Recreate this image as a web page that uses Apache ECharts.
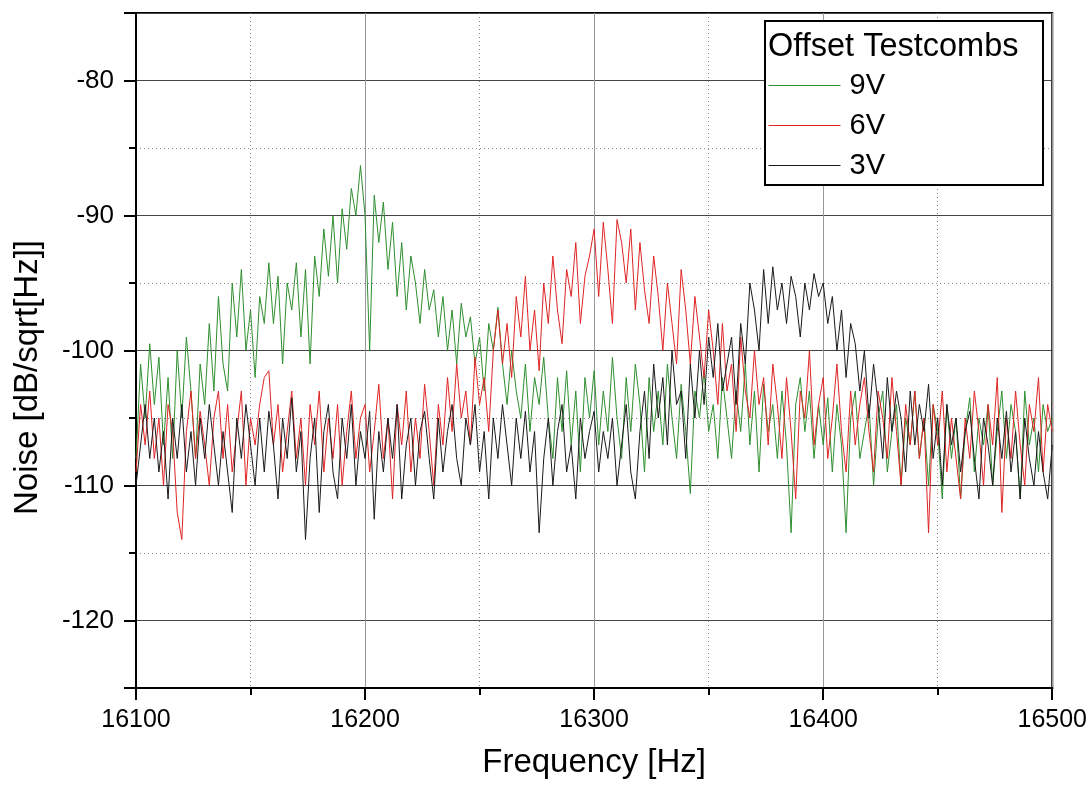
<!DOCTYPE html>
<html>
<head>
<meta charset="utf-8">
<script src="https://cdn.jsdelivr.net/npm/echarts@6/dist/echarts.min.js"></script>
<style>html,body{margin:0;padding:0;background:#fff;}#chart{width:1090px;height:789px;}</style>
</head>
<body>
<div id="chart"></div>
<script>
// Frequency sampling (Hz)
const freqStart = 16100;
const freqStep = 2;

// Noise [dB/sqrt[Hz]], one value per 2 Hz from 16100 to 16500
const green9V = [
-108,-101,-105,-99.5,-104,-100.5,-107,-102,-108,-100,
-105,-99,-103,-108,-101,-104,-98,-103,-96,-101,
-103,-95,-99,-94,-100,-97,-102,-96,-98,-93.5,
-98,-94.5,-101,-95,-97,-93.5,-99,-94,-101,-93,
-96,-91,-94.5,-90,-95,-89.5,-92.5,-88,-90,-86.3,
-90,-100,-88.5,-92,-89,-94,-90.5,-96,-92,-97,
-93,-95,-98,-94,-97,-95.5,-99,-96,-100,-97,
-101,-96.5,-99,-97.5,-101,-99,-103,-98,-100,-96.8,
-101,-104,-100,-103,-105,-101,-106,-102,-104,-100.5,
-105,-108,-102,-106,-101.5,-107,-103,-109,-102,-105,
-101.5,-107,-103,-106,-100.5,-105,-108,-102,-106,-101,
-104,-109,-102,-106,-103,-107,-101,-105,-108,-102.5,
-106,-110.6,-103,-105,-101.5,-106,-104,-108,-102,-105,
-108,-103,-106,-101,-107,-103,-109,-102.5,-106,-104,
-108,-103,-107,-113.5,-104,-102,-106,-103,-108,-104,
-107,-103.5,-109,-104,-107,-113.5,-105,-103,-108,-106,
-104,-110,-105,-103,-109,-106,-104,-110,-105,-107,
-103,-108,-105,-110,-104,-106,-111,-104,-108,-105,
-111,-106,-103.5,-109,-105,-107,-104,-110,-106,-103,
-108,-104,-106,-111,-103,-107,-105,-109,-104,-106,
-105
];
const red6V = [
-109,-104,-107,-103,-108,-105,-110,-104,-106,-112,
-114,-106,-103,-108,-104.5,-107,-110,-105,-103,-108,
-104,-109,-106,-103,-110,-105,-107,-104,-102,-101.5,
-107,-104,-109,-106,-103,-108,-105,-110,-104,-107,
-103,-109,-105,-108,-104,-110,-106,-103,-108,-105,
-104,-109,-106,-102.5,-108,-105,-111,-104,-107,-103,
-109,-105,-108,-102.5,-106,-110,-104,-107,-102,-106,
-101,-105,-103,-107,-100.5,-104,-102,-106,-100,-97,
-101,-98,-102,-96,-99,-94.5,-100,-97,-101.5,-95,
-98,-93,-97,-99.5,-94,-96,-92,-98,-94.5,-93,
-91,-96,-90.5,-94,-98,-90.3,-92,-95,-91,-97,
-92,-95.5,-98,-93,-96,-100,-95,-98,-101,-94,
-97,-101,-96,-99,-102,-97,-100,-104,-98,-103,
-101,-106,-99,-103,-105,-100,-104,-102,-107,-101,
-104,-108,-102,-106,-111,-103,-105,-100,-107,-104,
-102,-108,-105,-101,-106,-109,-103,-107,-104,-102,
-106,-109,-103,-105,-108,-102,-106,-110,-104,-107,
-103,-108,-105,-113.5,-104,-107,-103,-109,-105,-108,
-111,-105,-108,-103,-106,-110,-104,-107,-102,-112,
-105,-108,-103,-107,-110,-104,-106,-102,-109,-104,
-106
];
const black3V = [
-110,-107,-104,-108,-105,-109,-106,-111,-105,-108,
-104,-109,-106,-110,-105,-108,-104,-107,-110,-106,
-109,-112,-105,-108,-104,-107,-110,-105,-109,-104.5,
-107,-111,-105,-108,-103.5,-109,-106,-114,-108,-105,
-112,-106,-104,-109,-111,-105,-108,-104,-110,-106,
-108,-104.5,-112.5,-106,-109,-105,-108,-104,-111,-107,
-105,-110,-106,-104.5,-108,-111,-105,-109,-106,-104,
-108,-110,-105,-107,-104,-109,-106,-111,-105,-108,
-104,-107,-110,-105,-108,-104.5,-109,-106,-113.5,-108,
-105,-110,-106,-104,-109,-107,-111,-105,-108,-106,
-104.5,-109,-106,-108,-105,-110,-107,-104,-109,-111,
-106,-103,-108,-101,-105,-102,-107,-100,-104,-103,
-108,-101,-105,-100,-104,-99,-102,-98,-103,-101,
-99,-104,-98,-101,-95,-97,-100,-94,-98,-93.8,
-97,-95,-98,-94.5,-96,-99,-95,-97,-94.3,-96,
-95,-98,-96,-100,-97,-102,-98,-99.5,-103,-100,
-105,-101,-104,-108,-102,-106,-103,-105,-109,-103,
-107,-104,-106,-102.5,-108,-105,-110,-104,-107,-105,
-109,-106,-104.5,-108,-111,-105,-107,-110,-105,-108,
-104.5,-109,-106,-111,-105,-108,-110,-106,-109,-111,
-107
];

const seriesNames = ['9V', '6V', '3V'];
const seriesColors = ['#2f8f2f', '#e02424', '#1a1a1a'];
const legendTitle = 'Offset Testcombs';
const xTitle = 'Frequency [Hz]';
const yTitle = 'Noise [dB/sqrt[Hz]]';

function pairs(arr) {
  return arr.map((v, i) => [freqStart + i * freqStep, v]);
}

const FONT = '"Liberation Sans", Arial, sans-serif';
const chart = echarts.init(document.getElementById('chart'), null, {renderer: 'canvas'});

const option = {
  backgroundColor: '#fff',
  animation: false,
  grid: {
    left: 136, right: 37, top: 13, bottom: 101,
    show: true, borderColor: '#000', borderWidth: 2, backgroundColor: 'transparent'
  },
  xAxis: [
    {
      type: 'value', min: 16100, max: 16500, interval: 50,
      axisLine: {show: false},
      axisTick: {show: true, inside: false, length: 7, lineStyle: {color: '#000', width: 2}},
      axisLabel: {show: false},
      splitLine: {show: true, lineStyle: {color: ['transparent', '#888'], type: [1, 3], width: 1}}
    },
    {
      type: 'value', min: 16100, max: 16500, interval: 100, position: 'bottom',
      axisLine: {show: true, onZero: false, lineStyle: {color: '#000', width: 2}},
      axisTick: {show: true, inside: false, length: 12, lineStyle: {color: '#000', width: 2}},
      axisLabel: {show: true, margin: 20, color: '#000', fontSize: 25, fontFamily: FONT,
        formatter: v => String(v)},
      splitLine: {show: true, lineStyle: {color: '#999', width: 1}},
      name: xTitle, nameLocation: 'middle', nameGap: 58,
      nameTextStyle: {color: '#000', fontSize: 33, fontFamily: FONT}
    }
  ],
  yAxis: [
    {
      type: 'value', min: -125, max: -75, interval: 5,
      axisLine: {show: false},
      axisTick: {show: true, inside: false, length: 7, lineStyle: {color: '#000', width: 2}},
      axisLabel: {show: false},
      splitLine: {show: true, lineStyle: {color: ['#888', 'transparent'], type: [1, 3], width: 1}}
    },
    {
      type: 'value', min: -125, max: -75, splitNumber: 5, position: 'left',
      axisLine: {show: true, onZero: false, lineStyle: {color: '#000', width: 2}},
      axisTick: {show: true, inside: false, length: 12, lineStyle: {color: '#000', width: 2}},
      axisLabel: {show: true, margin: 22, color: '#000', fontSize: 26, fontFamily: FONT,
        formatter: v => (v % 10 === 0 ? String(v) : '')},
      splitLine: {show: true, lineStyle: {color: '#444', width: 1}},
      name: yTitle, nameLocation: 'middle', nameGap: 92, nameRotate: 90,
      nameTextStyle: {color: '#000', fontSize: 33, fontFamily: FONT, padding: [0, 54, 0, 0]}
    }
  ],
  legend: {
    data: seriesNames,
    orient: 'vertical', left: 768, top: 71,
    itemWidth: 72, itemHeight: 14, itemGap: 11, padding: 0,
    itemStyle: {opacity: 0},
    lineStyle: {width: 1},
    textStyle: {color: '#000', fontSize: 29, lineHeight: 28, fontFamily: FONT, padding: [0, 0, 0, 4]},
    z: 10
  },
  graphic: [
    {type: 'rect', z: 8, shape: {x: 765, y: 21, width: 278, height: 164},
      style: {fill: '#fff', stroke: '#000', lineWidth: 2}},
    {type: 'text', z: 11, style: {x: 768, y: 47, text: legendTitle, fill: '#000',
      font: '32.5px "Liberation Sans", Arial, sans-serif', verticalAlign: 'middle', align: 'left'}}
  ],
  series: seriesNames.map((name, k) => ({
    name: name, type: 'line', data: pairs([green9V, red6V, black3V][k]),
    xAxisIndex: 0, yAxisIndex: 0, symbol: 'none', z: 3,
    lineStyle: {color: seriesColors[k], width: 1}, itemStyle: {color: seriesColors[k]}
  }))
};
chart.setOption(option);
</script>
</body>
</html>
